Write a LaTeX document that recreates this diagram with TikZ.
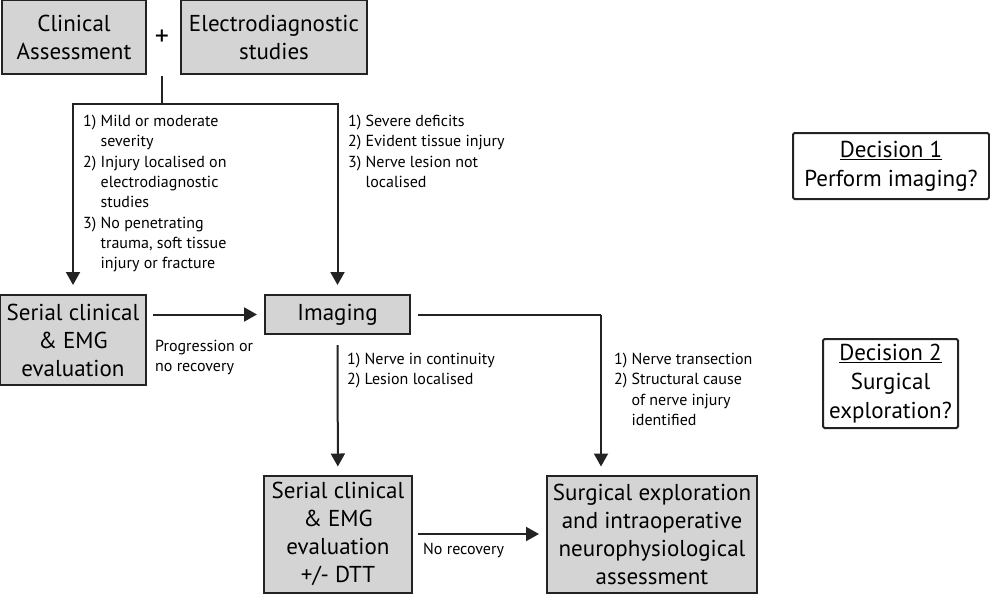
\documentclass[tikz,border=0pt]{standalone}
\usepackage{fontspec}
\setmainfont{PT Sans}
\usepackage{xcolor}
\definecolor{boxgray}{RGB}{212,212,212}
\definecolor{linegray}{RGB}{35,35,35}
\usetikzlibrary{arrows.meta,positioning,calc}

\begin{document}
\begin{tikzpicture}[
  x=1pt,y=-1pt,
  every node/.style={font=\fontsize{16}{20.3}\selectfont},
  bigbox/.style={draw=linegray,fill=boxgray,line width=2pt,align=center,
                 inner sep=0pt,font=\fontsize{23}{28}\selectfont},
  decbox/.style={draw=linegray,line width=2pt,rounded corners=1.5pt,align=center,
                 inner sep=0pt,font=\fontsize{23}{29}\selectfont},
  note/.style={anchor=north west,align=left,inner sep=0pt},
  arr/.style={-{Triangle[width=14pt,length=13pt]},line width=2pt,linegray},
  plain/.style={line width=2pt,linegray},
]
  \useasboundingbox (0,0) rectangle (990,594);

  % Starting boxes
  \node[bigbox,minimum width=144,minimum height=74] (clin) at (74,37)
    {Clinical\\Assessment};
  \node[bigbox,minimum width=186,minimum height=74] (electro) at (274,37)
    {Electrodiagnostic\\studies};
  \node[font=\fontsize{28}{30}\selectfont] (plus) at (162,38) {+};

  % Middle row
  \node[bigbox,minimum width=146,minimum height=90] (serialA) at (73,340)
    {Serial clinical\\\& EMG\\evaluation};
  \node[bigbox,minimum width=145,minimum height=39] (imaging) at (337.5,314.5)
    {Imaging};

  % Bottom row
  \node[bigbox,minimum width=148,minimum height=117] (serialB) at (338,534)
    {Serial clinical\\\& EMG\\evaluation\\+/- DTT};
  \node[bigbox,minimum width=210,minimum height=117] (surgery) at (652,534)
    {Surgical exploration\\and intraoperative\\neurophysiological\\assessment};

  % Decision boxes
  \node[decbox,minimum width=196,minimum height=66] (dec1) at (891,166)
    {\underline{Decision 1}\\Perform imaging?};
  \node[decbox,minimum width=135,minimum height=89] (dec2) at (890.5,383.5)
    {\underline{Decision 2}\\Surgical\\exploration?};

  % Split below the first boxes
  \coordinate (join) at (162,76);
  \coordinate (split) at (162,104);
  \draw[plain] (join) -- (split);
  \draw[arr,shorten >=9pt] (split) -| (serialA.north);
  \draw[arr,shorten >=9pt] (split) -| (imaging.north);

  % Criteria texts
  \node[note] (mild) at (83,115)
    {1)~Mild or moderate\\\phantom{1)~}severity\\
     2)~Injury localised on\\\phantom{2)~}electrodiagnostic\\\phantom{2)~}studies\\
     3)~No penetrating\\\phantom{3)~}trauma, soft tissue\\\phantom{3)~}injury or fracture};
  \node[note] (severe) at (348,115)
    {1)~Severe deficits\\2)~Evident tissue injury\\
     3)~Nerve lesion not\\\phantom{3)~}localised};

  % Serial evaluation -> imaging
  \draw[arr,shorten <=6pt,shorten >=7pt] (serialA.east |- imaging.west) -- (imaging.west);
  \node[note] (progress) at (155,340) {Progression or\\no recovery};

  % Imaging -> outcomes
  \coordinate (turn) at (601,314.5);
  \draw[arr,shorten <=10pt,shorten >=8pt] (imaging) -- (serialB);
  \draw[plain,shorten <=7pt] (imaging.east) -- (turn);
  \draw[arr,shorten >=8pt] (turn) -- (turn |- surgery.north);
  \node[note] (contin) at (347,353) {1)~Nerve in continuity\\2)~Lesion localised};
  \node[note] (transect) at (614,353)
    {1)~Nerve transection\\2)~Structural cause\\\phantom{2)~}of nerve injury\\
     \phantom{2)~}identified};

  % Serial evaluation -> surgery
  \draw[arr,shorten <=5pt,shorten >=7pt] (serialB) -- (surgery);
  \node[note] (norec) at (423,543) {No recovery};
\end{tikzpicture}
\end{document}
